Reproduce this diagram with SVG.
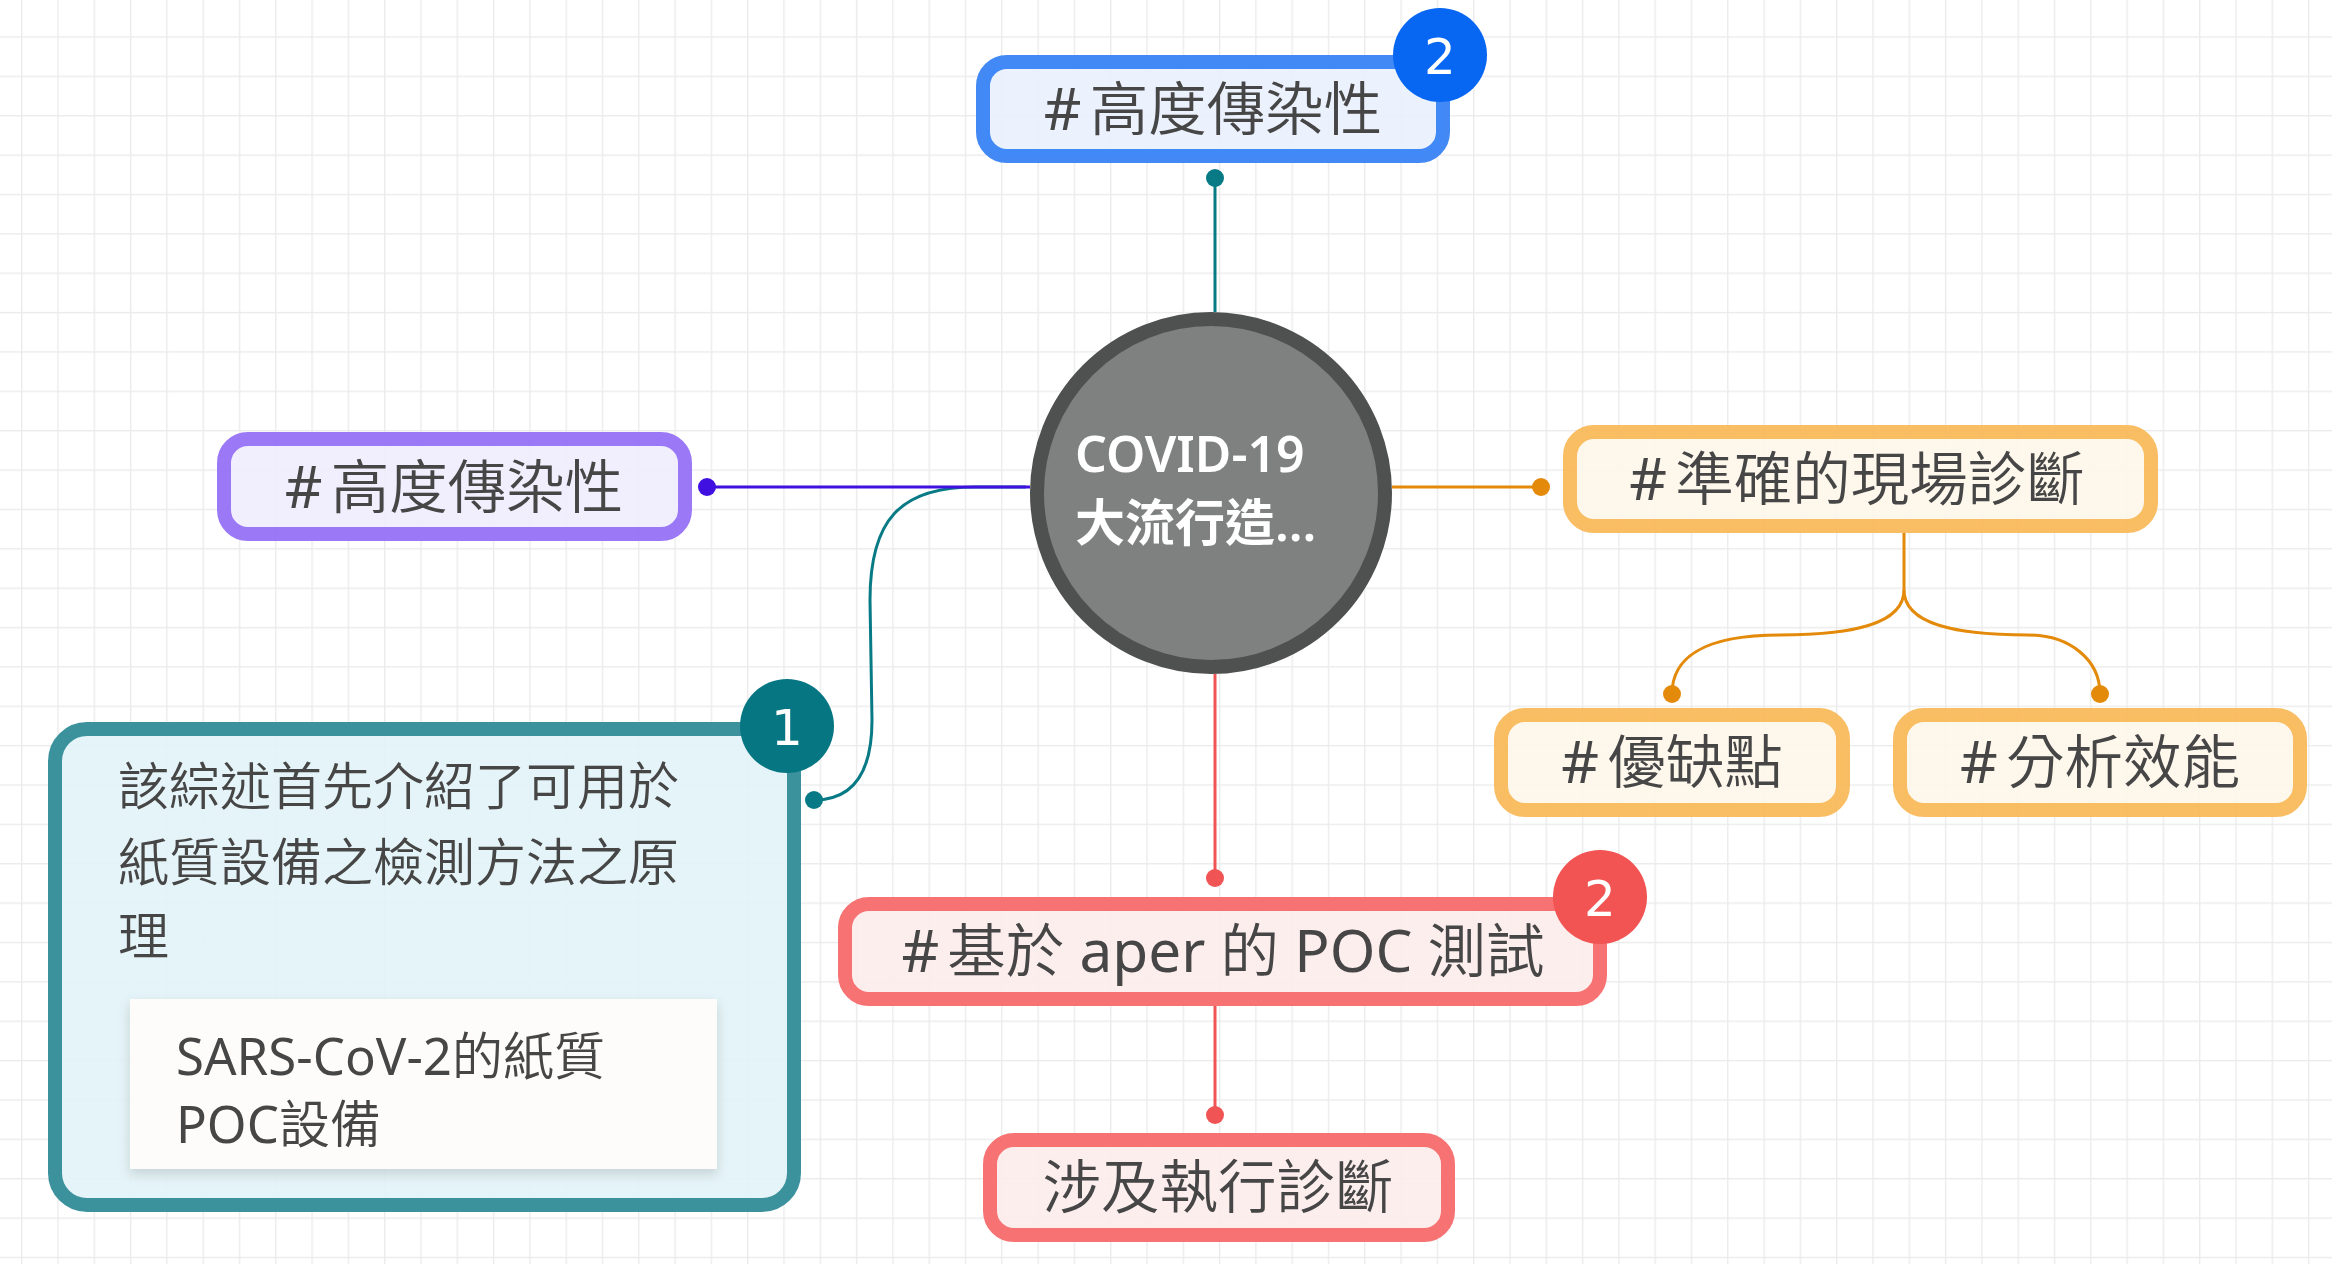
<svg xmlns="http://www.w3.org/2000/svg" width="2332" height="1264" viewBox="0 0 2332 1264">
<defs>
<pattern id="grid" x="21" y="36.3" width="36.3" height="39.37" patternUnits="userSpaceOnUse">
<rect x="0" y="0" width="1.4" height="39.37" fill="#ebebeb"/>
<rect x="0" y="0" width="36.3" height="1.4" fill="#ebebeb"/>
</pattern>
<filter id="shadow" x="-10%" y="-10%" width="120%" height="130%">
<feDropShadow dx="0" dy="5" stdDeviation="6" flood-color="#000" flood-opacity="0.14"/>
</filter>
</defs>
<style>
.t{font-family:"Noto Sans","Noto Sans CJK TC",sans-serif;fill:#474646;font-weight:350;}
.l{font-weight:400;}
.box{font-size:58.5px;text-anchor:middle;}
.note{font-size:51px;}
.bx{stroke-width:14;}
.purple{fill:#f0ecfd;fill-opacity:0.9;stroke:#9571f5;stroke-opacity:0.95;}
.blue{fill:#e9f1fe;fill-opacity:0.9;stroke:#3883f6;stroke-opacity:0.95;}
.orange{fill:#fdf6ea;fill-opacity:0.9;stroke:#f8b653;stroke-opacity:0.9;}
.red{fill:#fdecec;fill-opacity:0.9;stroke:#f76c6c;stroke-opacity:0.95;}
.teal{fill:#e2f3f7;fill-opacity:0.9;stroke:#358e9a;stroke-opacity:0.97;}
.badge{font-family:"DejaVu Sans",sans-serif;font-size:50px;fill:#fff;text-anchor:middle;}
.ln{fill:none;stroke-width:3;}
</style>
<rect width="2332" height="1264" fill="#ffffff"/>
<rect width="2332" height="1264" fill="url(#grid)"/>

<g id="connectors">
<path class="ln" d="M1215,312 V178" stroke="#087a86" stroke-width="3.5"/>
<circle cx="1215" cy="178" r="9" fill="#087a86"/>
<path class="ln" d="M1026,487 L975,487 C900,487 870,520 870,600 L872,720 C872,775 852,800 814,800" stroke="#087a86"/>
<circle cx="814" cy="800" r="9" fill="#087a86"/>
<path class="ln" d="M1030,487 H707" stroke="#3f10e0"/>
<circle cx="707" cy="487" r="9" fill="#3f10e0"/>
<path class="ln" d="M1392,487 H1541" stroke="#e48a0a"/>
<circle cx="1541" cy="487" r="9" fill="#e48a0a"/>
<path class="ln" d="M1904,533 V590 C1904,625 1850,635 1780,635 C1700,635 1672,660 1672,694" stroke="#e48a0a"/>
<path class="ln" d="M1904,590 C1904,625 1958,635 2028,635 C2070,635 2100,660 2100,694" stroke="#e48a0a"/>
<circle cx="1672" cy="694" r="9" fill="#e48a0a"/>
<circle cx="2100" cy="694" r="9" fill="#e48a0a"/>
<path class="ln" d="M1215,674 V878" stroke="#f05454"/>
<circle cx="1215" cy="878" r="9" fill="#f05454"/>
<path class="ln" d="M1215,1006 V1115" stroke="#f05454"/>
<circle cx="1215" cy="1115" r="9" fill="#f05454"/>
</g>

<g id="center">
<circle cx="1211" cy="493" r="174" fill="#7f8181" stroke="#4f5150" stroke-width="14"/>
<text x="1075" y="472" font-family="Noto Sans, Noto Sans CJK TC, sans-serif" font-size="50" font-weight="600" fill="#ffffff">COVID-19</text>
<text x="1075" y="541" font-family="Noto Sans, Noto Sans CJK TC, sans-serif" font-size="50" font-weight="600" fill="#ffffff">大流行造...</text>
</g>

<g id="node-top">
<rect class="bx blue" x="983" y="62" width="460" height="94" rx="24"/>
<text class="t box" x="1213" y="130"><tspan class="l">#</tspan><tspan dx="8">高度傳染性</tspan></text>
<circle cx="1440" cy="55" r="47" fill="#0867f2"/>
<text class="badge" x="1440" y="74">2</text>
</g>

<g id="node-left">
<rect class="bx purple" x="224" y="439" width="461" height="95" rx="24"/>
<text class="t box" x="454" y="508"><tspan class="l">#</tspan><tspan dx="8">高度傳染性</tspan></text>
</g>

<g id="node-right">
<rect class="bx orange" x="1570" y="432" width="581" height="94" rx="24"/>
<text class="t box" x="1857" y="500"><tspan class="l">#</tspan><tspan dx="8">準確的現場診斷</tspan></text>
</g>

<g id="node-pros">
<rect class="bx orange" x="1501" y="715" width="342" height="95" rx="24"/>
<text class="t box" x="1672" y="783"><tspan class="l">#</tspan><tspan dx="8">優缺點</tspan></text>
</g>

<g id="node-perf">
<rect class="bx orange" x="1900" y="715" width="400" height="95" rx="24"/>
<text class="t box" x="2100" y="783"><tspan class="l">#</tspan><tspan dx="8">分析效能</tspan></text>
</g>

<g id="node-bottom">
<rect class="bx red" x="845" y="904" width="755" height="95" rx="24"/>
<text class="t box" x="1223" y="972"><tspan class="l">#</tspan><tspan dx="8">基於 </tspan><tspan class="l">aper</tspan><tspan> 的 </tspan><tspan class="l">POC</tspan><tspan> 測試</tspan></text>
<circle cx="1600" cy="897" r="47" fill="#f25353"/>
<text class="badge" x="1600" y="916">2</text>
</g>

<g id="node-bottom-child">
<rect class="bx red" x="990" y="1140" width="458" height="95" rx="24"/>
<text class="t box" x="1218" y="1208">涉及執行診斷</text>
</g>

<g id="node-note">
<rect class="bx teal" x="55" y="729" width="739" height="476" rx="32"/>
<text class="t note" x="118" y="805">該綜述首先介紹了可用於</text>
<text class="t note" x="118" y="881">紙質設備之檢測方法之原</text>
<text class="t note" x="118" y="955">理</text>
<rect x="130" y="999" width="587" height="170" fill="#fdfcfa" filter="url(#shadow)"/>
<text class="t note" x="176" y="1075"><tspan class="l">SARS-CoV-2</tspan><tspan>的紙質</tspan></text>
<text class="t note" x="176" y="1143"><tspan class="l">POC</tspan><tspan>設備</tspan></text>
<circle cx="787" cy="726" r="47" fill="#077683"/>
<text class="badge" x="787" y="745">1</text>
</g>
</svg>
